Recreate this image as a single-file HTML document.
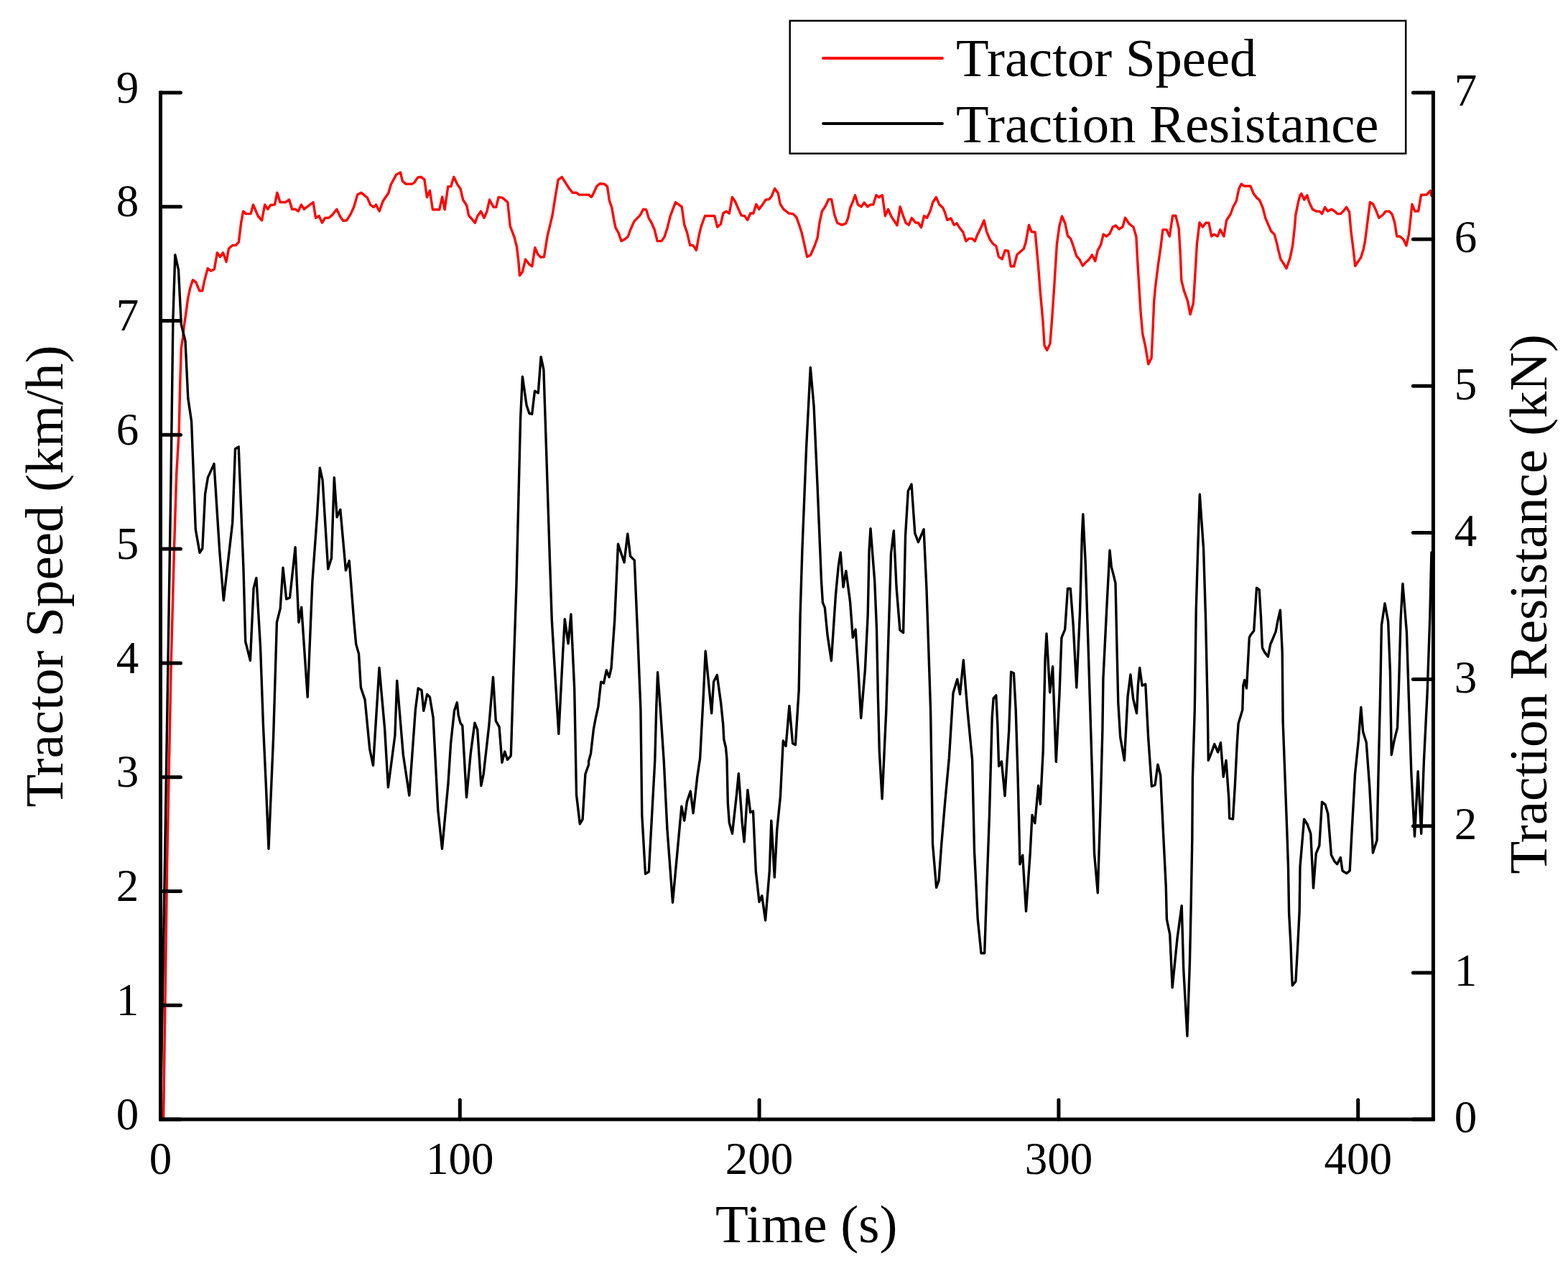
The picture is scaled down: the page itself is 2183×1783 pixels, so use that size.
<!DOCTYPE html>
<html><head><meta charset="utf-8"><title>Tractor Speed and Traction Resistance</title>
<style>
html,body{margin:0;padding:0;background:#fff;}
svg{display:block;}
text{font-family:"Liberation Serif","Times New Roman",serif;fill:#000;}
</style></head><body>
<svg width="2183" height="1783" viewBox="0 0 2183 1783">
<rect width="2183" height="1783" fill="#fff"/>
<g fill="none" stroke-linejoin="round" stroke-linecap="round" stroke-width="3.4">
<path stroke="#ff0000" d="M224.5,1558.0 L227.6,1556.0 L230.3,1371.0 L232.7,1200.0 L238.2,924.0 L242.4,766.0 L245.7,660.0 L249.2,600.0 L250.8,532.0 L252.3,485.0 L254.6,470.0 L256.2,454.0 L258.5,439.0 L261.6,415.5 L264.7,401.0 L268.4,389.7 L273.0,393.2 L277.6,404.7 L281.7,404.7 L284.6,390.9 L289.2,373.6 L293.8,377.1 L298.4,374.8 L302.4,351.7 L306.5,357.5 L310.5,351.7 L315.1,364.4 L318.5,346.0 L323.7,341.4 L328.3,341.4 L332.4,336.8 L335.8,309.1 L338.7,294.1 L342.7,297.6 L349.1,297.6 L352.5,284.9 L359.4,301.0 L364.6,306.8 L368.7,284.9 L372.7,291.2 L376.7,285.5 L382.5,284.9 L385.9,268.2 L390.0,281.5 L397.5,281.5 L402.6,278.0 L406.7,291.2 L411.3,291.2 L415.3,294.1 L419.4,284.9 L423.4,291.2 L436.1,281.5 L439.5,303.3 L444.1,300.5 L448.4,310.0 L452.7,303.3 L457.9,303.3 L463.0,298.7 L468.8,291.2 L474.0,302.2 L478.0,307.4 L482.6,306.8 L488.4,297.6 L493.0,287.2 L497.6,271.1 L502.8,268.2 L511.4,275.1 L515.5,284.9 L520.1,288.4 L523.5,284.9 L528.1,294.1 L533.3,279.7 L540.8,268.8 L544.3,256.7 L551.8,242.9 L557.5,240.0 L560.4,252.1 L565.0,256.1 L573.6,256.1 L577.1,253.8 L581.7,246.9 L586.3,246.3 L590.9,249.8 L594.4,274.5 L598.4,265.3 L602.4,291.8 L611.7,291.8 L615.7,274.0 L619.1,291.8 L623.8,259.6 L627.8,259.6 L631.8,246.3 L636.5,256.1 L641.1,263.0 L644.6,278.0 L649.8,286.1 L652.6,299.9 L656.7,304.5 L661.3,310.3 L664.7,301.0 L669.4,294.1 L674.0,303.3 L678.0,294.1 L681.5,278.0 L687.2,288.4 L690.7,288.4 L694.1,274.5 L699.3,275.1 L706.8,281.5 L710.3,314.9 L716.0,329.8 L719.5,343.7 L721.8,363.2 L723.5,383.4 L727.5,378.2 L731.6,360.9 L736.8,367.9 L740.8,370.7 L744.8,344.8 L748.8,354.0 L752.9,358.1 L757.5,357.5 L762.1,328.7 L769.0,299.9 L773.6,271.1 L777.1,250.3 L782.3,246.3 L792.1,261.9 L797.2,268.2 L802.4,268.2 L806.5,271.1 L819.7,271.1 L823.4,274.3 L826.5,268.8 L830.6,259.6 L835.2,255.5 L841.5,256.1 L845.5,259.6 L848.4,279.1 L851.9,289.5 L854.7,305.6 L857.1,317.2 L861.1,324.1 L865.1,335.6 L870.3,332.7 L874.3,329.3 L877.8,319.5 L883.0,307.9 L891.0,299.9 L895.6,291.2 L899.7,291.8 L903.1,303.3 L907.2,310.3 L911.2,319.5 L915.2,335.6 L921.0,335.6 L925.0,329.8 L929.1,317.2 L933.1,301.0 L936.5,291.8 L940.6,281.5 L945.2,284.9 L949.2,287.8 L952.7,312.6 L956.7,324.1 L960.7,341.4 L964.8,341.4 L969.4,348.3 L973.4,326.4 L976.3,314.9 L981.5,300.5 L994.7,300.5 L998.8,316.0 L1003.4,312.0 L1006.8,297.0 L1010.9,294.1 L1015.4,297.0 L1019.4,274.5 L1023.4,280.3 L1028.0,290.7 L1032.1,299.9 L1036.7,300.5 L1040.7,306.2 L1044.7,297.0 L1048.8,297.0 L1052.8,284.3 L1056.8,291.2 L1061.5,284.9 L1066.1,278.0 L1070.7,277.4 L1074.1,273.4 L1078.7,262.4 L1083.3,268.8 L1086.2,283.8 L1090.8,291.2 L1098.3,297.0 L1104.1,297.6 L1108.7,302.2 L1113.3,314.9 L1116.2,324.1 L1119.6,339.1 L1123.7,357.5 L1128.3,355.2 L1134.0,342.5 L1138.1,331.0 L1140.9,310.3 L1144.4,294.1 L1149.0,287.2 L1153.6,277.4 L1157.6,277.4 L1161.7,298.7 L1165.7,310.3 L1172.1,313.1 L1177.8,310.8 L1180.7,303.3 L1183.6,289.5 L1187.0,281.5 L1190.5,271.7 L1194.5,284.9 L1199.1,287.8 L1203.2,282.0 L1207.7,287.8 L1211.7,284.9 L1215.7,284.9 L1219.8,271.7 L1223.8,274.5 L1228.4,271.7 L1232.4,300.5 L1236.5,291.2 L1241.1,301.6 L1249.1,313.7 L1253.2,287.8 L1257.2,299.9 L1261.2,310.3 L1265.3,313.1 L1269.3,303.3 L1274.5,309.7 L1278.5,310.3 L1282.6,316.6 L1286.6,300.5 L1290.6,303.3 L1295.2,293.5 L1298.7,281.5 L1303.3,274.5 L1307.9,284.9 L1312.5,288.9 L1315.4,295.3 L1318.8,306.2 L1324.0,303.9 L1328.1,313.1 L1332.1,310.8 L1336.1,317.2 L1340.7,322.9 L1344.8,335.6 L1348.8,332.1 L1353.4,332.1 L1357.4,335.6 L1360.9,326.4 L1365.5,317.2 L1370.1,306.8 L1373.6,322.4 L1378.2,333.3 L1382.2,339.1 L1386.8,342.5 L1390.5,357.6 L1395.1,360.7 L1399.4,348.4 L1403.7,349.2 L1407.3,370.8 L1411.6,370.8 L1416.0,354.2 L1419.6,351.3 L1425.3,346.3 L1428.2,336.9 L1432.5,313.2 L1436.1,322.5 L1441.2,323.2 L1445.5,370.0 L1448.4,407.5 L1452.0,447.8 L1454.1,480.9 L1457.7,487.4 L1462.0,478.1 L1464.9,440.6 L1467.8,397.4 L1471.4,339.8 L1475.0,313.9 L1478.6,300.9 L1482.9,311.0 L1486.5,328.3 L1490.8,332.6 L1494.4,342.7 L1498.8,356.4 L1503.1,361.4 L1507.4,370.0 L1511.7,365.0 L1516.0,361.4 L1520.4,354.9 L1524.7,363.6 L1528.3,348.4 L1532.6,340.5 L1536.2,326.1 L1540.5,329.0 L1544.9,325.4 L1549.2,316.0 L1553.5,313.9 L1557.8,318.9 L1562.9,316.0 L1566.5,303.1 L1572.2,311.7 L1578.0,316.0 L1581.9,329.4 L1583.6,361.4 L1585.8,397.4 L1588.0,433.4 L1590.8,465.1 L1594.4,480.9 L1598.8,506.9 L1603.1,498.2 L1605.2,455.0 L1606.7,419.0 L1608.8,397.4 L1612.4,368.6 L1616.0,344.1 L1618.9,319.6 L1624.0,319.6 L1628.3,329.0 L1632.6,300.2 L1636.9,300.2 L1641.2,318.2 L1643.4,355.6 L1644.8,390.2 L1648.4,404.6 L1653.5,419.0 L1657.1,437.7 L1661.4,421.9 L1664.3,375.8 L1666.4,339.8 L1670.0,309.6 L1674.4,316.0 L1678.7,310.3 L1683.0,310.3 L1686.6,329.0 L1690.2,326.1 L1695.2,329.0 L1698.8,319.6 L1703.9,329.0 L1707.5,306.7 L1713.2,298.0 L1716.8,288.0 L1721.2,280.0 L1724.8,263.0 L1728.2,256.1 L1732.3,259.0 L1740.9,259.0 L1745.5,269.9 L1749.6,275.1 L1753.6,278.6 L1758.2,289.5 L1761.7,303.3 L1765.7,312.6 L1769.7,321.8 L1774.3,326.4 L1777.8,339.1 L1780.1,349.4 L1783.0,360.9 L1787.0,366.7 L1791.0,373.6 L1796.2,358.6 L1799.7,341.4 L1802.6,314.9 L1803.7,299.9 L1807.2,282.6 L1809.5,273.4 L1811.8,269.4 L1815.8,278.0 L1819.8,271.7 L1822.7,281.5 L1827.3,291.2 L1832.5,294.1 L1837.1,294.1 L1840.6,297.6 L1844.6,288.4 L1848.6,294.1 L1853.8,291.2 L1859.0,294.7 L1861.9,297.6 L1866.5,297.6 L1870.5,293.5 L1874.6,288.4 L1878.6,295.3 L1880.9,321.8 L1884.4,349.4 L1886.7,370.2 L1891.3,363.2 L1894.7,358.6 L1898.2,347.1 L1900.5,335.6 L1902.8,317.2 L1907.4,281.5 L1911.6,284.0 L1915.3,291.8 L1919.9,303.3 L1925.6,298.7 L1929.1,294.1 L1934.3,294.1 L1938.3,298.7 L1941.8,310.3 L1944.7,328.7 L1949.3,329.3 L1953.9,333.3 L1957.9,341.9 L1961.4,326.4 L1963.7,305.6 L1966.0,284.3 L1970.0,294.1 L1974.6,294.1 L1978.6,271.1 L1986.1,271.1 L1991.3,265.3 L1992.7,272.2"/>
<path stroke="#000" d="M223.5,1558.0 L229.5,1200.0 L238.1,660.0 L240.9,444.1 L243.8,354.7 L248.5,375.6 L252.3,451.7 L258.0,474.5 L261.8,554.3 L266.6,586.7 L272.3,736.9 L278.0,769.2 L281.8,763.5 L285.6,687.5 L289.4,664.6 L298.0,645.6 L305.6,765.4 L311.3,835.7 L323.7,727.4 L327.5,624.7 L332.2,621.9 L338.9,790.1 L341.7,892.8 L348.4,919.4 L353.1,818.6 L356.9,804.4 L362.6,901.9 L366.4,1008.4 L370.2,1090.1 L374.0,1181.4 L380.7,1023.6 L385.4,866.2 L390.2,847.1 L394.0,790.1 L398.7,833.8 L403.5,831.9 L411.1,761.6 L415.9,866.2 L419.7,845.2 L428.2,970.3 L434.9,809.1 L441.5,717.9 L445.3,651.3 L449.1,668.4 L456.7,792.0 L461.5,776.8 L465.3,664.6 L469.1,719.8 L473.8,709.3 L481.4,793.9 L486.2,780.6 L492.9,866.2 L495.7,896.6 L499.5,909.9 L502.4,957.0 L508.1,974.1 L514.7,1042.6 L519.5,1065.4 L528.0,929.5 L535.6,1014.1 L540.4,1095.8 L549.9,1023.6 L552.7,947.5 L561.3,1050.2 L569.8,1107.2 L578.4,987.5 L582.2,958.0 L587.0,960.8 L589.8,989.4 L594.6,966.5 L598.4,970.3 L603.1,998.9 L609.8,1128.1 L615.5,1181.4 L624.0,1090.1 L627.6,1034.7 L632.5,989.2 L636.3,977.8 L638.1,994.8 L640.9,1006.2 L643.8,1010.0 L649.5,1109.8 L655.2,1049.0 L660.9,1006.2 L664.7,1015.7 L669.8,1093.7 L673.2,1077.5 L680.8,1010.0 L686.5,942.5 L690.3,1003.3 L695.1,1011.9 L698.9,1061.3 L702.7,1046.1 L706.5,1057.5 L711.3,1051.8 L715.1,930.1 L718.9,816.0 L724.6,583.1 L727.4,524.1 L733.1,564.1 L736.9,575.5 L740.7,576.4 L744.5,544.1 L749.3,547.0 L753.1,496.6 L756.9,514.6 L760.7,630.6 L765.4,778.0 L768.3,863.6 L774.0,958.6 L777.8,1021.4 L783.5,911.1 L786.3,861.7 L791.1,895.9 L794.9,855.0 L799.7,958.6 L802.5,1106.0 L807.3,1146.9 L811.1,1140.3 L814.9,1077.5 L819.6,1064.2 L819.6,1059.4 L822.5,1049.0 L826.3,1015.7 L829.1,1000.5 L832.9,983.3 L836.7,949.1 L840.5,951.0 L844.3,933.0 L848.1,942.5 L851.0,930.1 L855.7,863.6 L860.5,757.1 L869.0,782.8 L873.8,742.9 L877.6,774.2 L883.3,779.9 L888.1,892.1 L891.9,987.1 L893.8,1134.6 L898.5,1216.3 L903.3,1213.5 L907.1,1144.1 L911.8,1058.5 L913.7,987.1 L915.6,935.8 L919.4,987.1 L924.2,1058.5 L928.9,1153.6 L936.5,1256.2 L945.1,1163.1 L948.9,1122.2 L952.7,1142.2 L956.5,1115.6 L961.3,1101.3 L965.1,1131.7 L970.8,1081.3 L974.6,1055.6 L979.3,968.1 L982.2,906.3 L990.7,992.9 L993.6,949.1 L998.3,939.6 L1003.8,979.6 L1006.7,1008.1 L1007.8,1029.0 L1010.5,1040.5 L1012.0,1057.1 L1013.3,1117.5 L1015.3,1145.1 L1019.5,1160.3 L1025.7,1104.2 L1028.3,1076.6 L1033.3,1146.0 L1036.1,1171.7 L1040.9,1099.4 L1044.7,1130.8 L1048.5,1128.9 L1052.3,1212.6 L1057.0,1255.4 L1060.8,1246.8 L1065.6,1281.0 L1071.3,1212.6 L1073.8,1142.2 L1078.3,1221.1 L1081.7,1155.6 L1086.5,1108.0 L1090.3,1031.0 L1094.1,1038.6 L1098.9,982.5 L1103.6,1034.8 L1107.4,1036.7 L1112.2,960.6 L1114.1,856.0 L1116.9,765.2 L1122.6,622.6 L1128.3,511.4 L1133.1,565.6 L1137.8,670.1 L1143.5,808.5 L1145.4,838.9 L1148.3,845.6 L1152.1,884.6 L1157.4,919.7 L1163.5,827.5 L1167.3,788.0 L1170.2,769.0 L1174.0,817.1 L1177.8,794.6 L1183.5,837.0 L1187.3,887.4 L1191.1,876.0 L1194.9,932.1 L1198.7,999.6 L1204.4,932.1 L1208.2,856.0 L1210.1,765.2 L1212.0,735.7 L1217.7,808.5 L1220.5,875.1 L1222.4,970.1 L1224.3,1046.2 L1228.1,1111.8 L1233.8,989.1 L1236.7,894.1 L1240.5,770.9 L1244.3,738.6 L1248.1,818.0 L1252.9,877.0 L1257.6,880.8 L1260.5,746.2 L1264.3,683.4 L1269.0,673.9 L1273.8,742.4 L1278.5,754.7 L1286.1,736.7 L1289.9,818.0 L1292.8,903.6 L1295.6,989.1 L1298.5,1174.6 L1303.6,1235.4 L1307.0,1225.9 L1310.8,1174.6 L1315.6,1117.5 L1321.3,1055.7 L1327.0,964.4 L1332.7,945.4 L1336.5,966.3 L1341.3,918.8 L1347.0,989.1 L1353.6,1057.6 L1356.5,1184.1 L1361.2,1279.1 L1366.0,1326.7 L1370.7,1326.7 L1373.6,1241.1 L1377.4,1136.5 L1381.2,998.6 L1383.1,972.0 L1386.8,967.9 L1388.8,1008.1 L1390.6,1066.5 L1394.4,1059.9 L1399.0,1107.8 L1404.7,1016.5 L1407.6,935.2 L1411.4,937.1 L1414.2,988.0 L1417.1,1083.1 L1419.0,1159.1 L1419.9,1202.9 L1423.7,1190.5 L1428.5,1268.4 L1434.2,1187.6 L1437.0,1134.4 L1440.8,1145.8 L1445.6,1093.5 L1448.4,1119.2 L1452.2,1045.1 L1455.1,916.2 L1457.0,881.9 L1461.7,963.7 L1465.6,927.6 L1470.3,1060.3 L1475.1,963.7 L1477.9,887.6 L1482.7,876.2 L1486.5,819.2 L1490.3,819.2 L1494.1,868.6 L1498.8,957.0 L1503.6,849.6 L1506.4,745.1 L1507.8,715.6 L1511.2,783.1 L1515.0,897.1 L1517.8,988.0 L1520.7,1083.1 L1523.5,1187.6 L1528.3,1242.8 L1532.1,1121.1 L1534.9,1016.5 L1535.9,944.7 L1540.6,849.6 L1545.0,766.0 L1547.3,788.8 L1550.2,800.2 L1553.0,811.6 L1554.9,897.1 L1556.8,978.5 L1559.7,1026.0 L1565.4,1058.4 L1570.1,969.0 L1573.9,939.0 L1577.7,972.8 L1582.5,992.8 L1584.4,954.2 L1586.7,929.5 L1590.1,954.2 L1594.8,952.3 L1598.6,1026.0 L1603.4,1094.5 L1608.1,1092.6 L1611.9,1064.1 L1615.7,1079.3 L1619.5,1159.1 L1621.4,1197.1 L1623.3,1235.2 L1624.4,1279.6 L1628.7,1300.3 L1632.2,1374.6 L1639.1,1305.5 L1645.2,1260.6 L1647.7,1348.7 L1652.9,1442.0 L1656.4,1340.1 L1658.1,1262.3 L1659.8,1167.3 L1660.4,1083.1 L1663.3,988.0 L1665.2,849.6 L1668.0,754.6 L1670.3,688.0 L1675.6,764.1 L1678.5,859.1 L1681.3,988.0 L1682.3,1058.4 L1686.1,1048.9 L1690.8,1035.6 L1695.6,1047.0 L1699.4,1033.7 L1703.2,1081.2 L1707.0,1058.4 L1710.8,1111.6 L1711.7,1139.2 L1716.5,1140.1 L1719.4,1092.6 L1722.2,1035.6 L1724.1,1007.0 L1729.8,988.0 L1730.8,954.2 L1732.7,946.6 L1735.5,958.0 L1739.3,887.6 L1741.2,883.8 L1745.7,878.0 L1749.5,818.1 L1753.2,820.9 L1755.5,859.1 L1757.4,901.4 L1760.7,907.9 L1765.4,914.0 L1768.7,896.7 L1772.4,888.2 L1776.2,878.9 L1778.7,864.9 L1782.4,849.2 L1785.2,907.3 L1786.1,1003.7 L1791.6,1151.2 L1793.5,1206.5 L1794.6,1271.0 L1797.0,1315.2 L1798.2,1349.8 L1799.3,1371.7 L1803.9,1365.9 L1806.8,1315.2 L1809.1,1269.1 L1810.0,1206.5 L1815.6,1140.1 L1820.2,1147.5 L1824.8,1160.4 L1828.5,1236.0 L1832.2,1188.1 L1836.8,1177.0 L1840.5,1116.2 L1845.1,1119.9 L1848.8,1132.8 L1853.4,1189.9 L1858.0,1199.1 L1861.7,1202.8 L1866.3,1193.6 L1869.0,1212.0 L1874.6,1215.7 L1879.2,1212.0 L1881.9,1160.4 L1886.5,1077.5 L1891.2,1031.4 L1894.8,984.4 L1897.6,1018.5 L1902.2,1033.2 L1906.8,1095.9 L1911.4,1187.1 L1917.0,1169.6 L1918.8,1086.7 L1921.6,966.9 L1923.4,870.4 L1928.0,840.0 L1932.6,864.9 L1935.4,934.9 L1937.2,1050.7 L1940.9,1031.4 L1945.5,1012.9 L1947.4,957.6 L1950.1,861.2 L1952.9,812.4 L1958.4,879.6 L1961.2,966.9 L1964.9,1077.5 L1969.5,1164.1 L1974.1,1073.8 L1978.7,1160.4 L1982.4,1059.0 L1987.0,966.9 L1990.7,861.2 L1992.9,769.0"/>
</g>
<g stroke="#000" stroke-width="5" stroke-linecap="round">
<line x1="223.5" y1="1558.0" x2="251.5" y2="1558.0"/><line x1="223.5" y1="1399.2" x2="251.5" y2="1399.2"/><line x1="223.5" y1="1240.4" x2="251.5" y2="1240.4"/><line x1="223.5" y1="1081.7" x2="251.5" y2="1081.7"/><line x1="223.5" y1="922.9" x2="251.5" y2="922.9"/><line x1="223.5" y1="764.1" x2="251.5" y2="764.1"/><line x1="223.5" y1="605.3" x2="251.5" y2="605.3"/><line x1="223.5" y1="446.6" x2="251.5" y2="446.6"/><line x1="223.5" y1="287.8" x2="251.5" y2="287.8"/><line x1="223.5" y1="129.0" x2="251.5" y2="129.0"/><line x1="1995.4" y1="1558.0" x2="1967.4" y2="1558.0"/><line x1="1995.4" y1="1353.9" x2="1967.4" y2="1353.9"/><line x1="1995.4" y1="1149.7" x2="1967.4" y2="1149.7"/><line x1="1995.4" y1="945.6" x2="1967.4" y2="945.6"/><line x1="1995.4" y1="741.4" x2="1967.4" y2="741.4"/><line x1="1995.4" y1="537.3" x2="1967.4" y2="537.3"/><line x1="1995.4" y1="333.1" x2="1967.4" y2="333.1"/><line x1="1995.4" y1="129.0" x2="1967.4" y2="129.0"/><line x1="223.5" y1="1558.0" x2="223.5" y2="1531.0"/><line x1="640.3" y1="1558.0" x2="640.3" y2="1531.0"/><line x1="1057.1" y1="1558.0" x2="1057.1" y2="1531.0"/><line x1="1473.9" y1="1558.0" x2="1473.9" y2="1531.0"/><line x1="1890.7" y1="1558.0" x2="1890.7" y2="1531.0"/>
</g>
<path d="M223.5,126.5 L223.5,1558.0 L1995.4,1558.0 L1995.4,126.5" fill="none" stroke="#000" stroke-width="5" stroke-linejoin="miter" stroke-linecap="butt"/>
<g font-size="63">
<text x="177.6" y="1571.6" text-anchor="middle">0</text><text x="177.6" y="1412.8" text-anchor="middle">1</text><text x="177.6" y="1254.0" text-anchor="middle">2</text><text x="177.6" y="1095.3" text-anchor="middle">3</text><text x="177.6" y="936.5" text-anchor="middle">4</text><text x="177.6" y="777.7" text-anchor="middle">5</text><text x="177.6" y="618.9" text-anchor="middle">6</text><text x="177.6" y="460.2" text-anchor="middle">7</text><text x="177.6" y="301.4" text-anchor="middle">8</text><text x="177.6" y="142.6" text-anchor="middle">9</text><text x="2040.6" y="1576.2" text-anchor="middle">0</text><text x="2040.6" y="1372.1" text-anchor="middle">1</text><text x="2040.6" y="1167.9" text-anchor="middle">2</text><text x="2040.6" y="963.8" text-anchor="middle">3</text><text x="2040.6" y="759.6" text-anchor="middle">4</text><text x="2040.6" y="555.5" text-anchor="middle">5</text><text x="2040.6" y="351.3" text-anchor="middle">6</text><text x="2040.6" y="147.2" text-anchor="middle">7</text><text x="223.5" y="1634.0" text-anchor="middle">0</text><text x="640.3" y="1634.0" text-anchor="middle">100</text><text x="1057.1" y="1634.0" text-anchor="middle">200</text><text x="1473.9" y="1634.0" text-anchor="middle">300</text><text x="1890.7" y="1634.0" text-anchor="middle">400</text>
</g>
<text x="995.9" y="1728.9" font-size="75">Time (s)</text>
<text transform="translate(86.9,1123.6) rotate(-90)" font-size="75">Tractor Speed (km/h)</text>
<text transform="translate(2152.8,1216.5) rotate(-90)" font-size="75">Traction Resistance (kN)</text>
<rect x="1099.7" y="28.9" width="857.5" height="184.8" fill="#fff" stroke="#000" stroke-width="2.5"/>
<line x1="1146" y1="81" x2="1312" y2="81" stroke="#ff0000" stroke-width="3.8" stroke-linecap="round"/>
<line x1="1146" y1="172" x2="1312" y2="172" stroke="#000" stroke-width="3.8" stroke-linecap="round"/>
<text x="1331.1" y="106.3" font-size="74.7">Tractor Speed</text>
<text x="1331.1" y="197.6" font-size="74.7">Traction Resistance</text>
</svg>
</body></html>
